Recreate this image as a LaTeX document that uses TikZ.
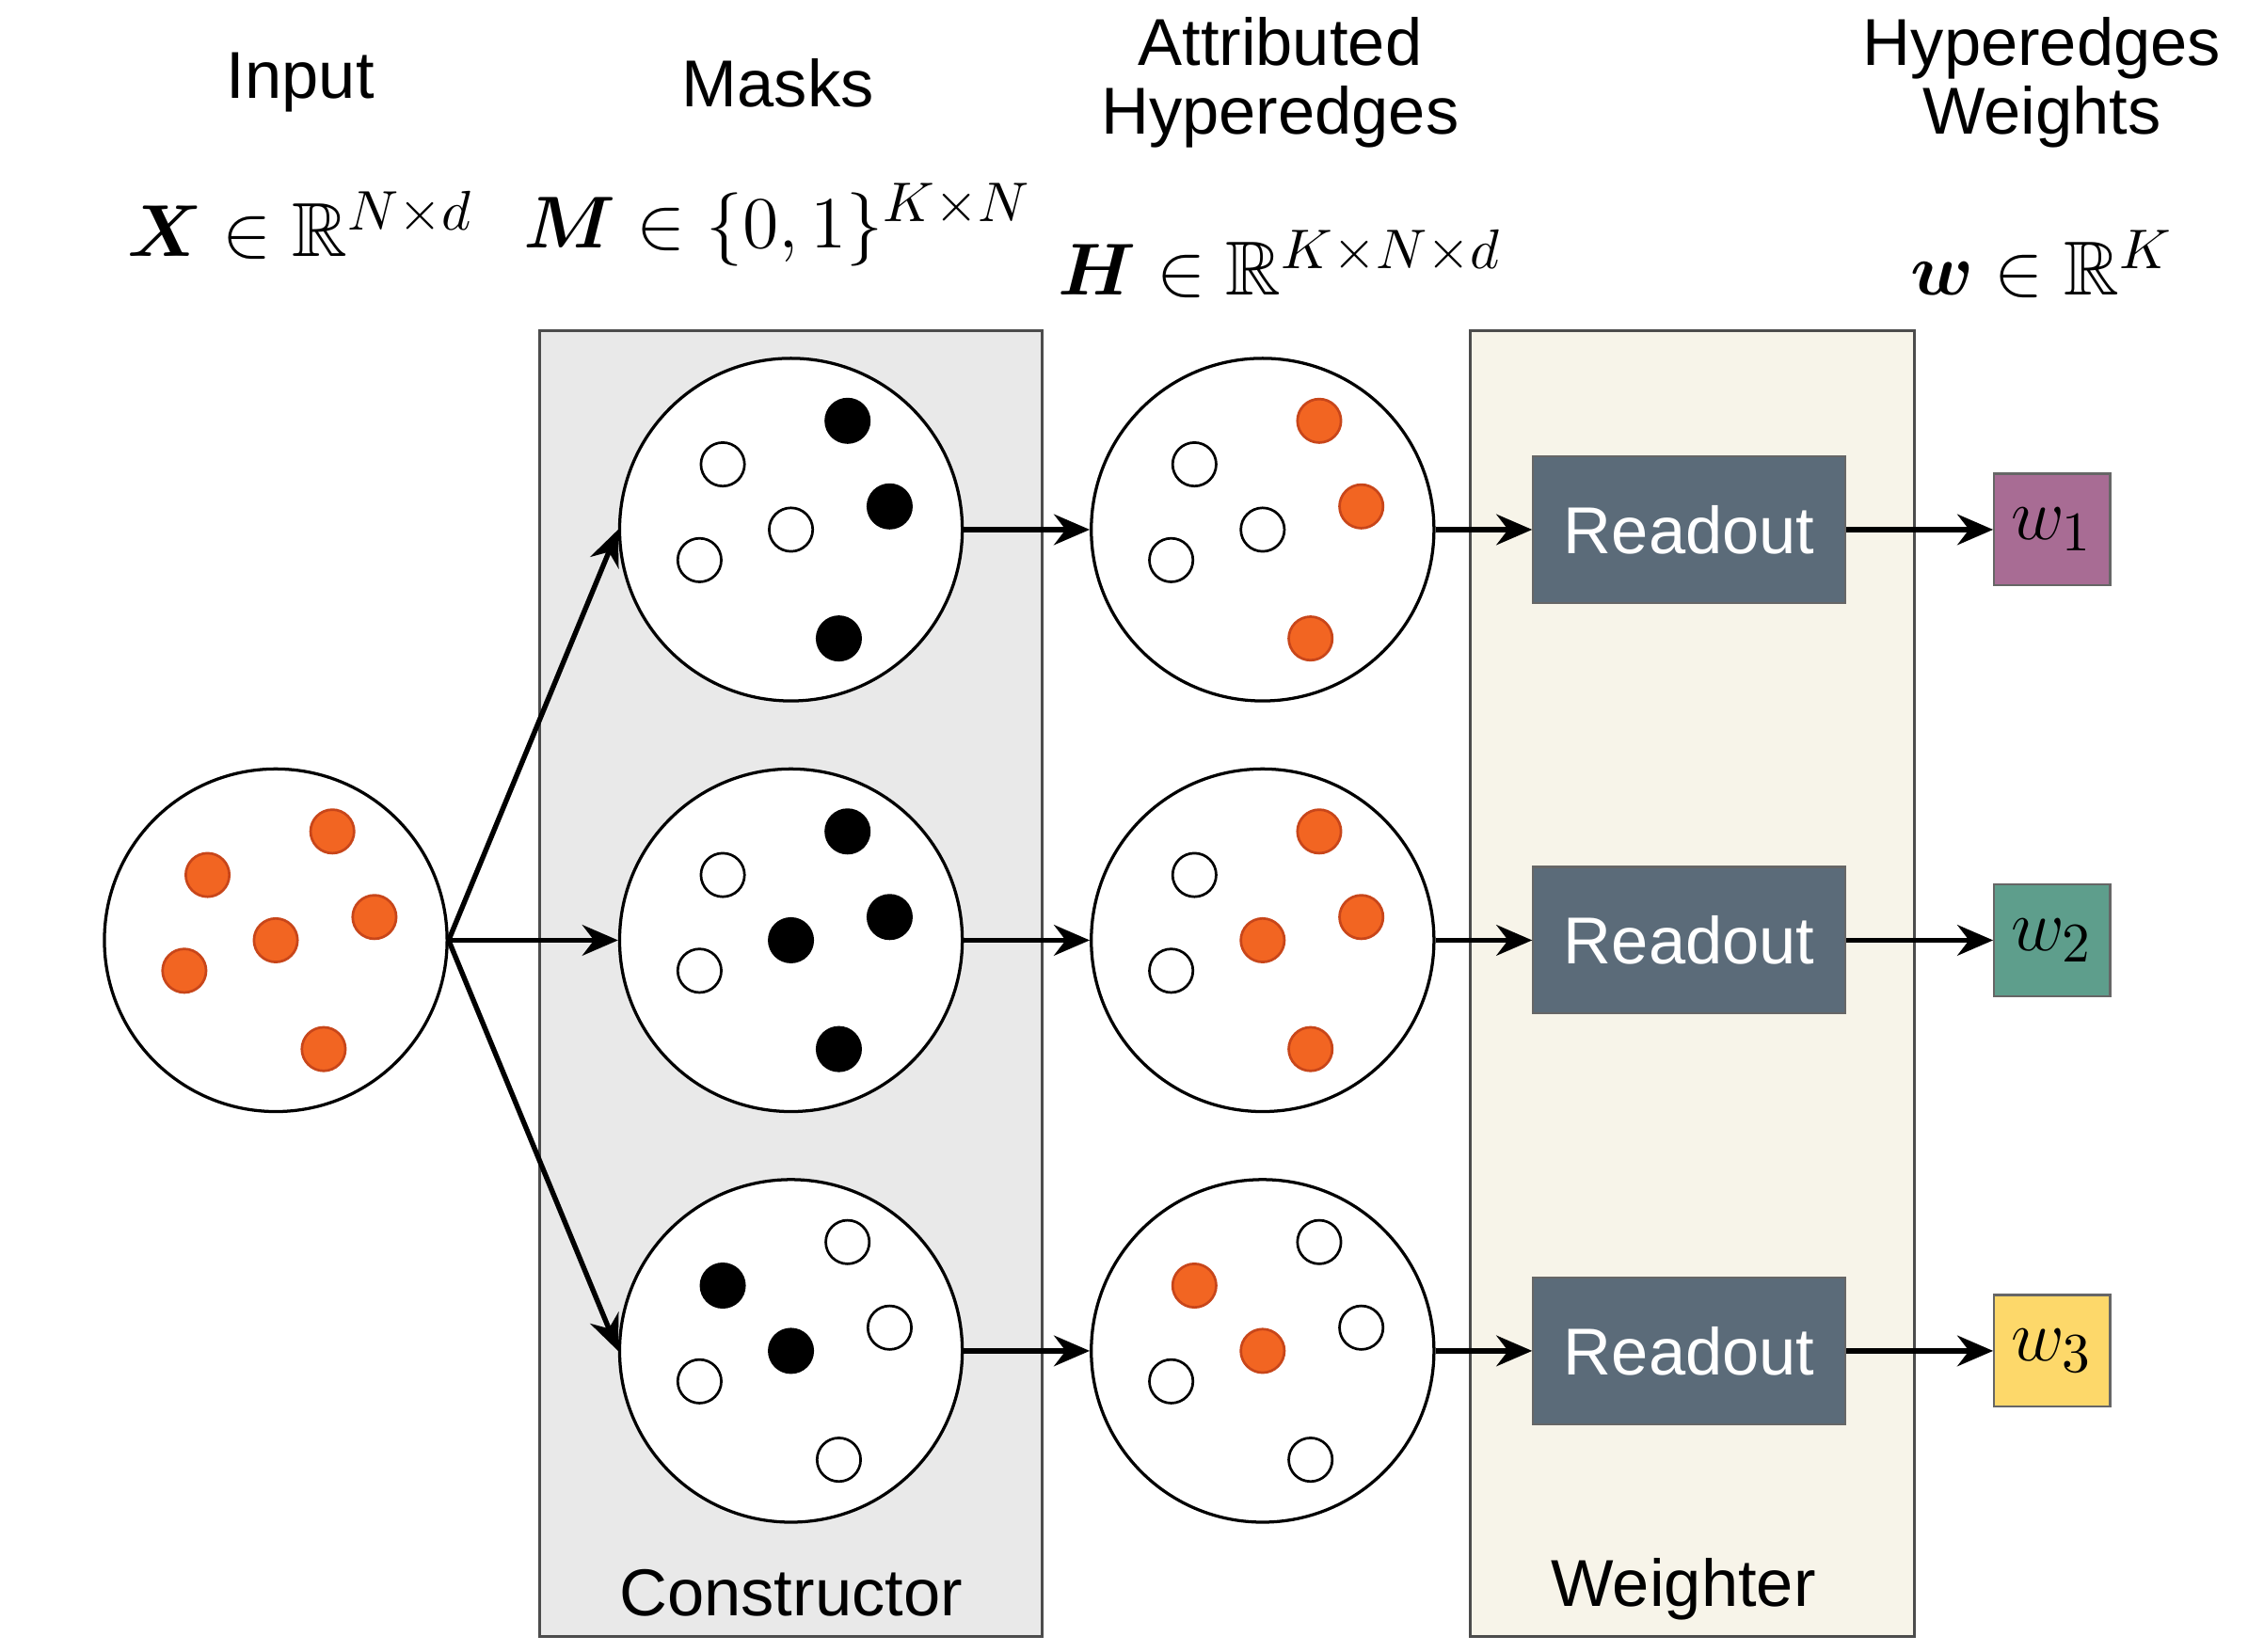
\documentclass[tikz,border=0pt]{standalone}
\usepackage{fontspec}
\usepackage{amsmath,amssymb,bm}
\setsansfont{Liberation Sans}
\usetikzlibrary{arrows.meta}
\definecolor{org}{HTML}{F26522}
\definecolor{orgd}{HTML}{C8461A}
\definecolor{cgray}{HTML}{E9E9E9}
\definecolor{cbeige}{HTML}{F7F4E9}
\definecolor{rd}{HTML}{5B6B79}
\definecolor{wpur}{HTML}{A86C94}
\definecolor{wgrn}{HTML}{5E9E8C}
\definecolor{wyel}{HTML}{FDD86A}
\begin{document}
\begin{tikzpicture}[x=0.01cm,y=-0.01cm,
  big/.style={circle,draw,line width=0.6pt,minimum size=2.36cm,inner sep=0pt,fill=white},
  dw/.style={circle,draw,line width=0.5pt,minimum size=0.3cm,inner sep=0pt,fill=white},
  db/.style={circle,draw,line width=0.5pt,minimum size=0.3cm,inner sep=0pt,fill=black},
  dor/.style={circle,draw=orgd,line width=0.5pt,minimum size=0.3cm,inner sep=0pt,fill=org},
  panel/.style={draw=black!70,line width=0.6pt},
  rdo/.style={draw=black!60,fill=rd,minimum width=2.15cm,minimum height=1.01cm,text=white,font=\sffamily\fontsize{13}{15}\selectfont},
  wb/.style={draw=black!60,minimum width=0.77cm,minimum height=0.77cm,font=\fontsize{15}{18}\selectfont},
  ar/.style={-{Stealth[length=7pt,width=6pt]},line width=1pt},
  ttl/.style={font=\sffamily\fontsize{13}{15.5}\selectfont,align=center},
  mth/.style={font=\fontsize{15}{18}\selectfont}]
\useasboundingbox (0,0) rectangle (1560,1138);
\fill[white] (0,0) rectangle (1560,1138);
\draw[panel,fill=cgray] (372,228) rectangle (718,1128);
\draw[panel,fill=cbeige] (1013,228) rectangle (1319,1128);
\node[ttl] (tc) at (545,1098) {Constructor};
\node[ttl] (tw) at (1160,1095) {Weighter};
\node[ttl] (t1) at (207,57) {Input};
\node[ttl] (t2) at (536,57) {Masks};
\node[ttl] (t3) at (882,57) {Attributed\\[-2pt]Hyperedges};
\node[ttl] (t4) at (1407,57) {Hyperedges\\[-2pt]Weights};
\node[mth] (e1) at (207,155) {$\bm{X}\in\mathbb{R}^{N\times d}$};
\node[mth] (e2) at (536,155) {$\bm{M}\in\{0,1\}^{K\times N}$};
\node[mth] (e3) at (882,182) {$\bm{H}\in\mathbb{R}^{K\times N\times d}$};
\node[mth] (e4) at (1407,182) {$\bm{w}\in\mathbb{R}^{K}$};
\node[big] (in) at (190,648) {};
\foreach \n/\y in {1/365,2/648,3/931}{
  \node[big] (m\n) at (545,\y) {};
  \node[big] (a\n) at (870,\y) {};
  \node[rdo] (r\n) at (1164,\y) {Readout};
}
\node[wb,fill=wpur] (w1) at (1414,365) {$w_1$};
\node[wb,fill=wgrn] (w2) at (1414,648) {$w_2$};
\node[wb,fill=wyel] (w3) at (1414,931) {$w_3$};
\newcommand\sixdots[8]{%
  \node[#3] at (#1+39,#2-75) {};
  \node[#4] at (#1-47,#2-45) {};
  \node[#5] at (#1+68,#2-16) {};
  \node[#6] at (#1,#2) {};
  \node[#7] at (#1-63,#2+21) {};
  \node[#8] at (#1+33,#2+75) {};}
\sixdots{190}{648}{dor}{dor}{dor}{dor}{dor}{dor}
\sixdots{545}{365}{db}{dw}{db}{dw}{dw}{db}
\sixdots{545}{648}{db}{dw}{db}{db}{dw}{db}
\sixdots{545}{931}{dw}{db}{dw}{db}{dw}{dw}
\sixdots{870}{365}{dor}{dw}{dor}{dw}{dw}{dor}
\sixdots{870}{648}{dor}{dw}{dor}{dor}{dw}{dor}
\sixdots{870}{931}{dw}{dor}{dw}{dor}{dw}{dw}
\foreach \n in {1,2,3}{
  \draw[ar] (in.east) -- (m\n.west);
  \draw[ar] (m\n.east) -- (a\n.west);
  \draw[ar] (a\n.east) -- (r\n.west);
  \draw[ar] (r\n.east) -- (w\n.west);
}
\end{tikzpicture}
\end{document}
